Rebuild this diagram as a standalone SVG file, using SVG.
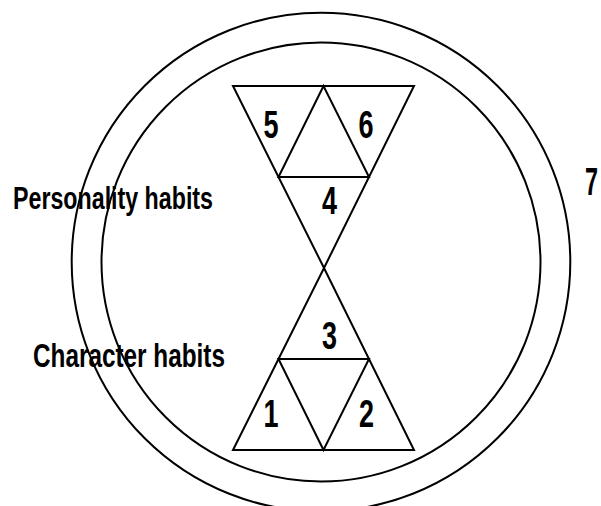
<svg xmlns="http://www.w3.org/2000/svg" width="601" height="506" viewBox="0 0 601 506">
<style>
.ln{fill:none;stroke:#000;stroke-width:2;stroke-linejoin:miter}
.num{font-family:"Liberation Sans",Arial,sans-serif;font-size:38px;font-weight:bold;fill:#000}
.lbl{font-family:"Liberation Sans",Arial,sans-serif;font-weight:bold;fill:#000}
</style>
<rect x="0" y="0" width="601" height="506" fill="#fff"/>
<g id="circles">
<circle class="ln" cx="321" cy="262" r="249.3"/>
<circle class="ln" cx="321" cy="262" r="219.5"/>
</g>
<g id="top-triangle">
<polygon class="ln" points="233,86 414,86 324,268"/>
<polygon class="ln" points="323.5,86 278.5,177 369,177"/>
</g>
<g id="bottom-triangle">
<polygon class="ln" points="233,450 414,450 324,268"/>
<polygon class="ln" points="323.5,450 278.5,359 369,359"/>
</g>
<g id="labels">
<text class="lbl" x="13" y="209" font-size="31" textLength="200" lengthAdjust="spacingAndGlyphs">Personality habits</text>
<text class="lbl" x="33" y="366.5" font-size="33" textLength="192" lengthAdjust="spacingAndGlyphs">Character habits</text>
</g>
<g id="numbers">
<text class="num" x="263.5" y="137.5" textLength="15" lengthAdjust="spacingAndGlyphs">5</text>
<text class="num" x="358.5" y="137.5" textLength="15" lengthAdjust="spacingAndGlyphs">6</text>
<text class="num" x="322" y="214" textLength="15" lengthAdjust="spacingAndGlyphs">4</text>
<text class="num" x="322" y="349" textLength="15" lengthAdjust="spacingAndGlyphs">3</text>
<text class="num" x="263.5" y="426.5" textLength="15" lengthAdjust="spacingAndGlyphs">1</text>
<text class="num" x="359" y="426.5" textLength="15" lengthAdjust="spacingAndGlyphs">2</text>
<text class="num" x="585" y="195" textLength="13" lengthAdjust="spacingAndGlyphs">7</text>
</g>
</svg>
